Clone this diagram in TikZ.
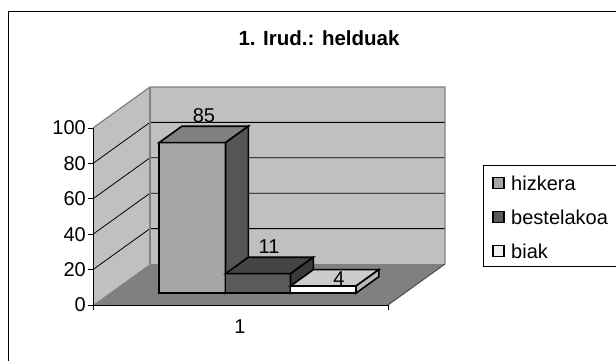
\documentclass[tikz,border=0pt]{standalone}
\usepackage{fontspec}
\setmainfont{Liberation Sans}
% oblique chart point: x in front plane, value, depth fraction
\newcommand{\Pq}[3]{({#1+57*(#3)},{305-1.77*(#2)-41*(#3)})}
\definecolor{wallgray}{HTML}{C0C0C0}
\definecolor{floorgray}{HTML}{808080}
\definecolor{edgegray}{HTML}{808080}
\definecolor{aFront}{HTML}{A6A6A6}
\definecolor{aTop}{HTML}{808080}
\definecolor{aSide}{HTML}{555555}
\definecolor{bFront}{HTML}{5A5A5A}
\definecolor{bTop}{HTML}{454545}
\definecolor{bSide}{HTML}{3A3A3A}
\definecolor{cFront}{HTML}{FFFFFF}
\definecolor{cTop}{HTML}{CCCCCC}
\definecolor{cSide}{HTML}{B8B8B8}
\tikzset{
  barline/.style={draw=black,line width=1.6pt,line join=miter},
  gridln/.style={draw=black,line width=0.8pt},
  wallln/.style={draw=edgegray,line width=1.2pt},
  axisln/.style={draw=black,line width=0.9pt},
  lbl/.style={font=\fontsize{20}{23}\selectfont,inner sep=0pt},
  leglbl/.style={font=\fontsize{20}{23}\selectfont,inner sep=0pt,anchor=west},
  legsq/.style={draw=black,line width=1.5pt,minimum size=11pt,inner sep=0pt},
}
\begin{document}
\begin{tikzpicture}[x=1pt,y=-1pt]
\useasboundingbox (0,0) rectangle (616,361);
% outer frame (cut off at right and bottom)
\draw[black,line width=1pt] (8,361) -- (8,12) -- (616,12);
% title
\node[font=\bfseries\fontsize{20.5}{24}\selectfont,inner sep=0pt] (title) at (319,38) {1. Irud.: helduak};
% walls
\fill[wallgray] \Pq{93}{0}{1} -- \Pq{388}{0}{1} -- \Pq{388}{100}{1} -- \Pq{93}{100}{1} -- cycle;
\fill[wallgray] \Pq{93}{0}{0} -- \Pq{93}{0}{1} -- \Pq{93}{100}{1} -- \Pq{93}{100}{0} -- cycle;
\foreach \v in {20,40,60,80}{
  \draw[gridln] \Pq{93}{\v}{0} -- \Pq{93}{\v}{1} -- \Pq{388}{\v}{1};
}
\fill[floorgray] \Pq{93}{0}{0} -- \Pq{93}{0}{1} -- \Pq{388}{0}{1} -- \Pq{388}{0}{0} -- cycle;
\draw[wallln] \Pq{93}{100}{0} -- \Pq{93}{100}{1} -- \Pq{388}{100}{1} -- \Pq{388}{0}{1};
\draw[draw=black!70,line width=1pt] \Pq{388}{0}{1} -- \Pq{388}{0}{0};
\draw[wallln] \Pq{93}{100}{1} -- \Pq{93}{0}{1};
% axes
\draw[axisln] \Pq{93}{100}{0} -- \Pq{93}{0}{0} -- \Pq{388}{0}{0};
\foreach \v in {0,20,...,100}{
  \draw[axisln] \Pq{88}{\v}{0} -- \Pq{93}{\v}{0};
  \node[lbl,anchor=east] (y\v) at \Pq{86}{\v}{0} {\v};
}
\draw[axisln] (93,305) -- (93,310);
\draw[axisln] (388,305) -- (388,310);
\node[lbl] (cat1) at (240,327) {1};
% bars: front depth 0.29, back depth 0.69
\def\f{0.29}\def\b{0.69}
% bar 1 (85)
\filldraw[barline,fill=aFront] \Pq{142.5}{0}{\f} rectangle \Pq{209}{85}{\f};
\filldraw[barline,fill=aTop] \Pq{142.5}{85}{\f} -- \Pq{209}{85}{\f} -- \Pq{209}{85}{\b} -- \Pq{142.5}{85}{\b} -- cycle;
\filldraw[barline,fill=aSide] \Pq{209}{0}{\f} -- \Pq{209}{85}{\f} -- \Pq{209}{85}{\b} -- \Pq{209}{0}{\b} -- cycle;
% bar 2 (11)
\filldraw[barline,fill=bFront] \Pq{209}{0}{\f} rectangle \Pq{274}{11}{\f};
\filldraw[barline,fill=bTop] \Pq{209}{11}{\f} -- \Pq{274}{11}{\f} -- \Pq{274}{11}{\b} -- \Pq{209}{11}{\b} -- cycle;
\filldraw[barline,fill=bSide] \Pq{274}{0}{\f} -- \Pq{274}{11}{\f} -- \Pq{274}{11}{\b} -- \Pq{274}{0}{\b} -- cycle;
% bar 3 (4)
\filldraw[barline,fill=cFront] \Pq{274}{0}{\f} rectangle \Pq{339.5}{4}{\f};
\filldraw[barline,fill=cTop] \Pq{274}{4}{\f} -- \Pq{339.5}{4}{\f} -- \Pq{339.5}{4}{\b} -- \Pq{274}{4}{\b} -- cycle;
\filldraw[barline,fill=cSide] \Pq{339.5}{0}{\f} -- \Pq{339.5}{4}{\f} -- \Pq{339.5}{4}{\b} -- \Pq{339.5}{0}{\b} -- cycle;
% value labels
\node[lbl] (v85) at (204,116) {85};
\node[lbl] (v11) at (269,247) {11};
\node[lbl] (v4) at (339,279) {4};
% legend (cut off at right)
\draw[black,line width=1pt] (616,165.5) -- (483.5,165.5) -- (483.5,266.5) -- (616,266.5);
\node[legsq,fill=aFront] (s1) at (498.5,183) {};
\node[legsq,fill=bFront] (s2) at (498.5,217) {};
\node[legsq,fill=white!94!black] (s3) at (498.5,251) {};
\node[leglbl] (l1) at (511,183) {hizkera};
\node[leglbl] (l2) at (511,217) {bestelakoa};
\node[leglbl] (l3) at (511,251) {biak};
\end{tikzpicture}
\end{document}
